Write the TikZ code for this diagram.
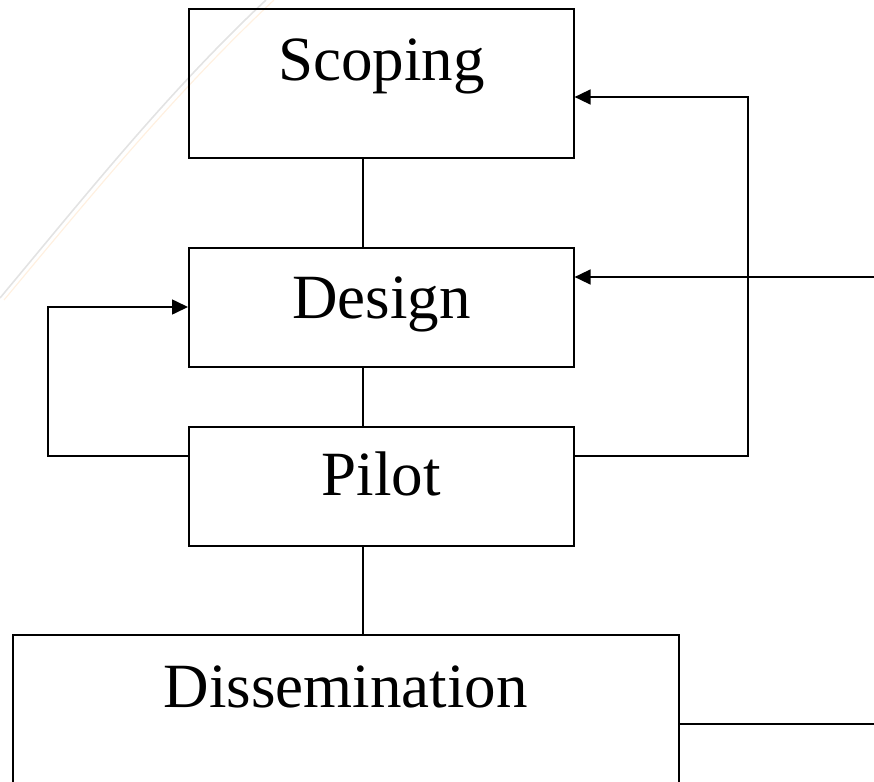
\documentclass[tikz,border=0pt]{standalone}
\usepackage{fontspec}
\setmainfont{Liberation Serif}
\usetikzlibrary{arrows.meta}
\begin{document}
\begin{tikzpicture}[x=1pt,y=-1pt,
  boxstyle/.style={draw=black,line width=1.6pt,rectangle,inner sep=0pt,anchor=north west,
    font=\fontsize{63}{70}\selectfont},
  conn/.style={line width=1.6pt,draw=black},
  arr/.style={conn,-{Triangle[length=16pt,width=15pt]}}]
\useasboundingbox (0,0) rectangle (874,781);
\clip (0,0) rectangle (874,781);
% faint background swoosh
\draw[line width=1.6pt,draw=gray!22] (0,298) .. controls (90,190) and (170,90) .. (266,0);
\draw[line width=1.2pt,draw=orange!12] (4,300) .. controls (94,192) and (176,92) .. (274,0);
% boxes
\node[boxstyle,minimum width=385pt,text height=72pt,text depth=77pt] (sc) at (188,8) {Scoping};
\node[boxstyle,minimum width=385pt,text height=71pt,text depth=48pt] (de) at (188,247) {Design};
\node[boxstyle,minimum width=385pt,text height=69pt,text depth=50pt] (pi) at (188,426) {Pilot};
\node[boxstyle,minimum width=666pt,text height=73pt,text depth=140pt] (di) at (12,634) {Dissemination};
% helper coordinates
\coordinate (cx) at (363,0);
\coordinate (py) at (0,456);
\coordinate (sy) at (0,97);
\coordinate (dy) at (0,307);
\coordinate (rx) at (748,0);
\coordinate (lx) at (48,0);
\coordinate (rin) at (874,277);
\coordinate (rout) at (874,724);
% vertical connectors
\draw[conn] (cx |- sc.south) -- (cx |- de.north);
\draw[conn] (cx |- de.south) -- (cx |- pi.north);
\draw[conn] (cx |- pi.south) -- (cx |- di.north);
% feedback loops
\draw[arr] (pi.east |- py) -- (rx |- py) -- (rx |- sy) -- (sc.east |- sy);
\draw[arr] (rin) -- (de.east |- rin);
\draw[arr] (pi.west |- py) -- (lx |- py) -- (lx |- dy) -- (de.west |- dy);
\draw[conn] (di.east |- rout) -- (rout);
\end{tikzpicture}
\end{document}
